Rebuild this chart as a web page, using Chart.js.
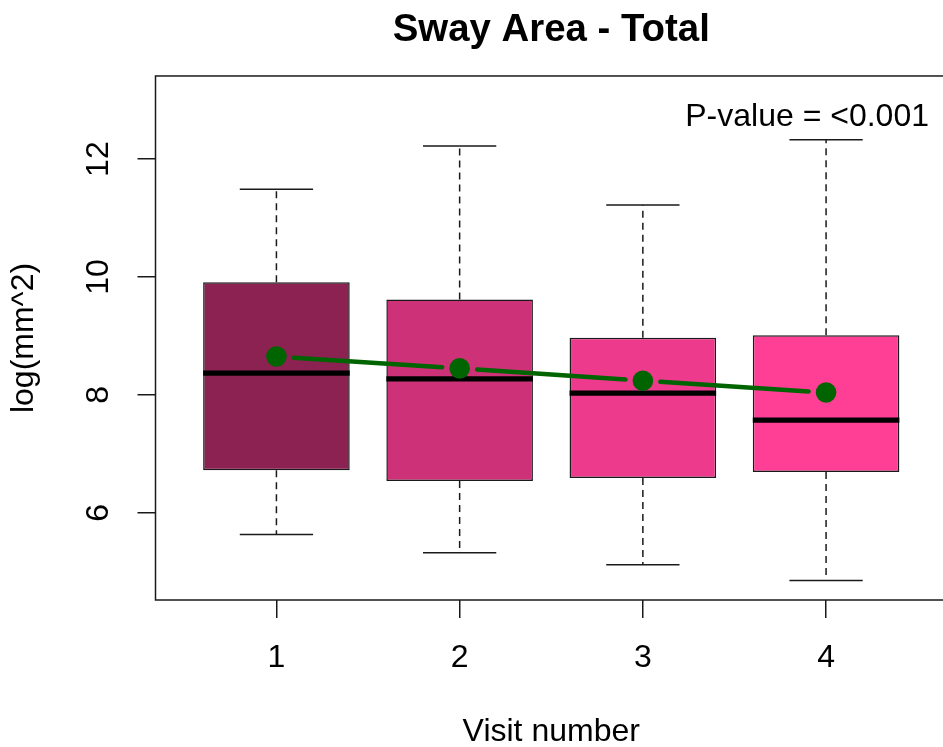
<!DOCTYPE html>
<html>
<head>
<meta charset="utf-8">
<script src="https://cdn.jsdelivr.net/npm/chart.js@4"></script>
<style>
  html, body { margin: 0; padding: 0; overflow: hidden; background: #fff; }
  canvas { display: block; }
</style>
</head>
<body>
<canvas id="chart" width="960" height="747"></canvas>
<script>
// Sway area (log mm^2) per visit: five-number summaries plus group means
const visits      = [1, 2, 3, 4];
const whiskerLow  = [5.63, 5.32, 5.12, 4.85];
const q1          = [6.72, 6.54, 6.59, 6.69];
const medians     = [8.37, 8.27, 8.03, 7.57];
const q3          = [9.91, 9.62, 8.97, 9.01];
const whiskerHigh = [11.49, 12.22, 11.22, 12.33];
const means       = [8.65, 8.45, 8.24, 8.04];
const yTicks      = [6, 8, 10, 12];
const boxColors   = ['#8B2252', '#CD3278', '#EE3A8C', '#FF3E96'];
const titleText   = 'Sway Area - Total';
const pValueText  = 'P-value = <0.001';

const FAMILY = '"Liberation Sans", Arial, sans-serif';
const INK = '#1a1a1a';
const LINE_W = 1.5;
const MEAN_GREEN = '#006400';

Chart.defaults.font.family = FAMILY;
Chart.defaults.color = '#000';

// Whiskers, staples, medians and the gapped mean line, drawn over the boxes
const boxExtras = {
  id: 'boxExtras',
  afterDatasetDraw(chart, args) {
    if (args.index !== 1) return;
    const { ctx, scales: { x, y } } = chart;
    const bars = chart.getDatasetMeta(1).data;
    ctx.save();
    visits.forEach((v, i) => {
      const cx = x.getPixelForValue(v);
      const half = bars[i].width / 2;
      // dashed whiskers
      ctx.strokeStyle = INK;
      ctx.lineWidth = LINE_W;
      ctx.setLineDash([7, 5]);
      ctx.beginPath();
      ctx.moveTo(cx, y.getPixelForValue(q3[i]));
      ctx.lineTo(cx, y.getPixelForValue(whiskerHigh[i]));
      ctx.moveTo(cx, y.getPixelForValue(q1[i]));
      ctx.lineTo(cx, y.getPixelForValue(whiskerLow[i]));
      ctx.stroke();
      // staples
      ctx.setLineDash([]);
      ctx.beginPath();
      const yh = y.getPixelForValue(whiskerHigh[i]);
      const yl = y.getPixelForValue(whiskerLow[i]);
      ctx.moveTo(cx - half / 2, yh); ctx.lineTo(cx + half / 2, yh);
      ctx.moveTo(cx - half / 2, yl); ctx.lineTo(cx + half / 2, yl);
      ctx.stroke();
      // median
      ctx.strokeStyle = '#000';
      ctx.lineWidth = 5.3;
      ctx.beginPath();
      const ym = y.getPixelForValue(medians[i]);
      ctx.moveTo(cx - half, ym); ctx.lineTo(cx + half, ym);
      ctx.stroke();
    });
    // mean line with gaps around each point
    const gap = 17.5;
    ctx.strokeStyle = MEAN_GREEN;
    ctx.lineWidth = 4.5;
    ctx.lineCap = 'round';
    for (let i = 0; i < visits.length - 1; i++) {
      const x0 = x.getPixelForValue(visits[i]), y0 = y.getPixelForValue(means[i]);
      const x1 = x.getPixelForValue(visits[i + 1]), y1 = y.getPixelForValue(means[i + 1]);
      const len = Math.hypot(x1 - x0, y1 - y0);
      const ux = (x1 - x0) / len, uy = (y1 - y0) / len;
      ctx.beginPath();
      ctx.moveTo(x0 + ux * gap, y0 + uy * gap);
      ctx.lineTo(x1 - ux * gap, y1 - uy * gap);
      ctx.stroke();
    }
    ctx.restore();
  }
};

// Plot frame and the p-value note
const frameAndNote = {
  id: 'frameAndNote',
  afterDraw(chart) {
    const { ctx, chartArea: a } = chart;
    ctx.save();
    ctx.strokeStyle = INK;
    ctx.lineWidth = LINE_W;
    ctx.strokeRect(a.left, a.top, a.right - a.left, a.bottom - a.top);
    ctx.fillStyle = '#000';
    ctx.font = '32px ' + FAMILY;
    ctx.textAlign = 'right';
    ctx.textBaseline = 'alphabetic';
    ctx.fillText(pValueText, a.right - 18, a.top + 50.5);
    ctx.restore();
  }
};

new Chart(document.getElementById('chart'), {
  type: 'bar',
  data: {
    datasets: [
      {
        type: 'line',
        label: 'Mean',
        data: visits.map((v, i) => ({ x: v, y: means[i] })),
        showLine: false,
        pointRadius: 10.3,
        pointBackgroundColor: MEAN_GREEN,
        pointBorderWidth: 0,
        order: 0
      },
      {
        type: 'bar',
        label: 'IQR',
        data: visits.map((v, i) => ({ x: v, y: [q1[i], q3[i]] })),
        backgroundColor: boxColors,
        borderColor: INK,
        borderWidth: LINE_W,
        borderSkipped: false,
        categoryPercentage: 0.8,
        barPercentage: 1.0,
        order: 2
      }
    ]
  },
  options: {
    responsive: false,
    animation: false,
    devicePixelRatio: 1,
    layout: { padding: { left: 0, right: 13, top: 0, bottom: 0 } },
    plugins: {
      legend: { display: false },
      tooltip: { enabled: false },
      title: {
        display: true,
        text: titleText,
        fullSize: false,
        color: '#000',
        font: { family: FAMILY, size: 38.4, weight: 'bold', lineHeight: 1.2 },
        padding: { top: 7, bottom: 22.9 }
      }
    },
    scales: {
      x: {
        type: 'linear',
        min: 0.34,
        max: 4.66,
        offset: false,
        bounds: 'data',
        afterBuildTicks: s => { s.ticks = visits.map(v => ({ value: v })); },
        afterFit: s => { s.height = 147; },
        border: { display: false },
        grid: { offset: false, drawOnChartArea: false, drawTicks: true, tickLength: 18, color: INK, lineWidth: LINE_W },
        ticks: { font: { size: 32 }, color: '#000', padding: 20.8, maxRotation: 0, autoSkip: false },
        title: {
          display: true, text: 'Visit number', color: '#000',
          font: { size: 32, lineHeight: 1 }, padding: { top: 0, bottom: -1 }
        }
      },
      y: {
        type: 'linear',
        min: 4.52,
        max: 13.41,
        bounds: 'data',
        afterBuildTicks: s => { s.ticks = yTicks.map(v => ({ value: v })); },
        afterFit: s => { s.width = 155.5; },
        border: { display: false },
        grid: { drawOnChartArea: false, drawTicks: true, tickLength: 18, color: INK, lineWidth: LINE_W },
        ticks: {
          font: { size: 32 }, color: '#000', padding: 20.3,
          minRotation: 90, maxRotation: 90, crossAlign: 'center', autoSkip: false
        },
        title: {
          display: true, text: 'log(mm^2)', color: '#000',
          font: { size: 32, lineHeight: 1 }, padding: { top: 8, bottom: 0 }
        }
      }
    }
  },
  plugins: [boxExtras, frameAndNote]
});
</script>
</body>
</html>
